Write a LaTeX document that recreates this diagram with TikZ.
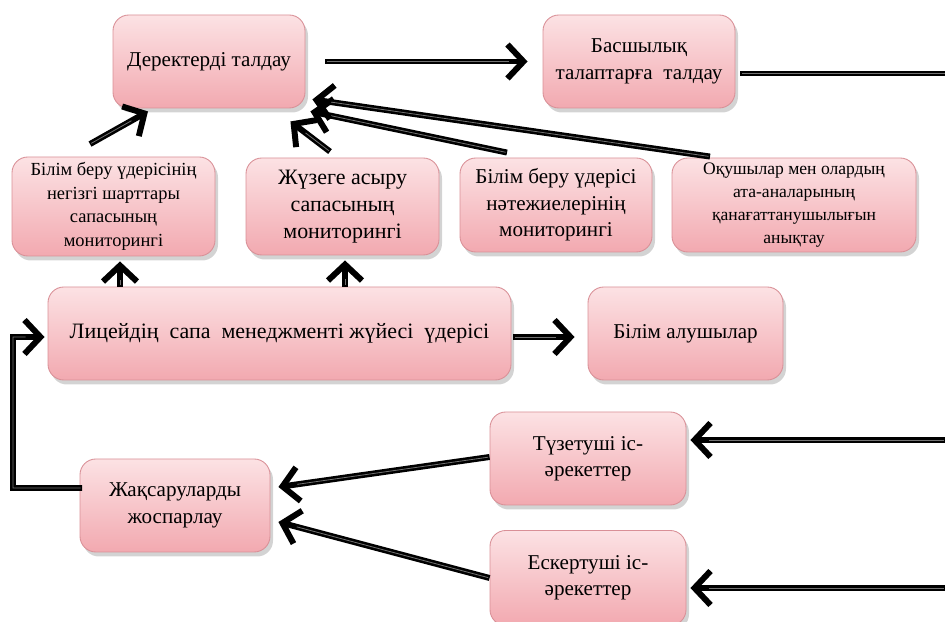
\documentclass[tikz,border=0pt]{standalone}
\usepackage{fontspec}
\setmainfont{Liberation Serif}
\usetikzlibrary{arrows.meta}
\usetikzlibrary{shadows}
\usetikzlibrary{calc}
\definecolor{BoxTop}{HTML}{FCE2E4}
\definecolor{BoxBottom}{HTML}{F2A9B0}
\definecolor{BoxEdge}{HTML}{D99097}
\tikzset{
  blok/.style={draw=BoxEdge, line width=0.5pt, rounded corners=9pt,
    top color=BoxTop, bottom color=BoxBottom, align=center, inner sep=2pt,
    drop shadow={opacity=0.35, shadow xshift=0.6mm, shadow yshift=-0.9mm},
    font=\fontsize{12}{15}\selectfont},
  arr/.style={line width=3.4pt, black,
    -{Straight Barb[length=3.2mm, width=6.8mm]},
    postaction={draw=black!55, line width=0.45pt, -, shorten >=3.8mm, shorten <=0.8pt}},
  lin/.style={line width=3.4pt, black,
    postaction={draw=black!55, line width=0.45pt, shorten <=0.8pt}}
}

\begin{document}
\begin{tikzpicture}
  \useasboundingbox (0,0) rectangle (18.9,12.44);

  % top row
  \node[blok, minimum width=3.84cm, minimum height=1.86cm] (dt) at (4.18,11.21) {Деректерді талдау};
  \node[blok, minimum width=3.84cm, minimum height=1.86cm] (bt) at (12.78,11.21) {Басшылық\\талаптарға\ \ талдау};

  % monitoring boxes
  \node[blok, minimum width=4.06cm, minimum height=1.98cm, font=\fontsize{10.5}{13.5}\selectfont] (m1) at (2.27,8.31)
    {Білім беру үдерісінің\\негізгі шарттары\\сапасының\\мониторингі};
  \node[blok, minimum width=3.86cm, minimum height=1.94cm, font=\fontsize{12.5}{15.5}\selectfont] (m2) at (6.85,8.31)
    {Жүзеге асыру\\сапасының\\мониторингі};
  \node[blok, minimum width=3.84cm, minimum height=1.88cm, font=\fontsize{12}{15}\selectfont] (m3) at (11.12,8.34)
    {Білім беру үдерісі\\нәтежиелерінің\\мониторингі};
  \node[blok, minimum width=4.88cm, minimum height=1.88cm, font=\fontsize{10}{13}\selectfont] (m4) at (15.88,8.34)
    {Оқушылар мен олардың\\ата-аналарының\\қанағаттанушылығын\\анықтау};

  % process row
  \node[blok, minimum width=9.26cm, minimum height=1.86cm, font=\fontsize{12.5}{15}\selectfont] (lsm) at (5.59,5.77)
    {Лицейдің\ \ сапа\ \ менеджменті жүйесі\ \ үдерісі};
  \node[blok, minimum width=3.9cm, minimum height=1.86cm] (ba) at (13.71,5.77) {Білім алушылар};

  % actions
  \node[blok, minimum width=3.92cm, minimum height=1.86cm] (tz) at (11.76,3.27) {Түзетуші іс-\\әрекеттер};
  \node[blok, minimum width=3.8cm, minimum height=1.86cm] (zh) at (3.5,2.33) {Жақсаруларды\\жоспарлау};
  \node[blok, minimum width=3.92cm, minimum height=1.9cm] (es) at (11.76,0.88) {Ескертуші іс-\\әрекеттер};

  \coordinate (outA) at (18.9,10.97);
  \coordinate (outB) at (18.9,3.64);
  \coordinate (outC) at (18.9,0.68);
  \coordinate (loopl) at (0.26,2.68);

  % connectors
  \draw[arr] ([xshift=0.4cm]dt.east) -- ([xshift=-0.3cm]bt.west);
  \draw[lin] ([xshift=0.1cm]bt.east |- outA) -- (outA);

  \draw[arr] ([shift={(-0.47,0.25)}]m1.north) -- ([shift={(-1.22,-0.06)}]dt.south);
  \draw[arr] ([shift={(-0.25,0.12)}]m2.north) -- ([shift={(-0.3,-0.26)}]dt.south east);
  \draw[arr] ([shift={(-0.98,0.1)}]m3.north) -- ([shift={(0.1,-0.06)}]dt.south east);
  \draw[arr] ([shift={(-1.68,0.02)}]m4.north) -- ([shift={(0.14,0.18)}]dt.south east);

  \draw[arr] ([xshift=0.13cm]m1.south |- lsm.north) -- ([xshift=0.13cm,yshift=-0.1cm]m1.south);
  \draw[arr] ([xshift=0.05cm]m2.south |- lsm.north) -- ([xshift=0.05cm,yshift=-0.1cm]m2.south);
  \draw[arr] ([shift={(0.04,-0.07)}]lsm.east) -- ([shift={(-0.26,-0.07)}]ba.west);

  \draw[arr] (outB) -- ([xshift=0.08cm]outB -| tz.east);
  \draw[arr] (outC) -- ([xshift=0.08cm]outC -| es.east);

  \draw[arr] ([yshift=0.03cm]tz.west) -- ([shift={(0.16,0.37)}]zh.east);
  \draw[arr] (es.west) -- ([shift={(0.16,-0.33)}]zh.east);

  \draw[arr] ([shift={(0.05,0.35)}]zh.west) -- (loopl) |- ([shift={(-0.06,-0.07)}]lsm.west);
\end{tikzpicture}
\end{document}
